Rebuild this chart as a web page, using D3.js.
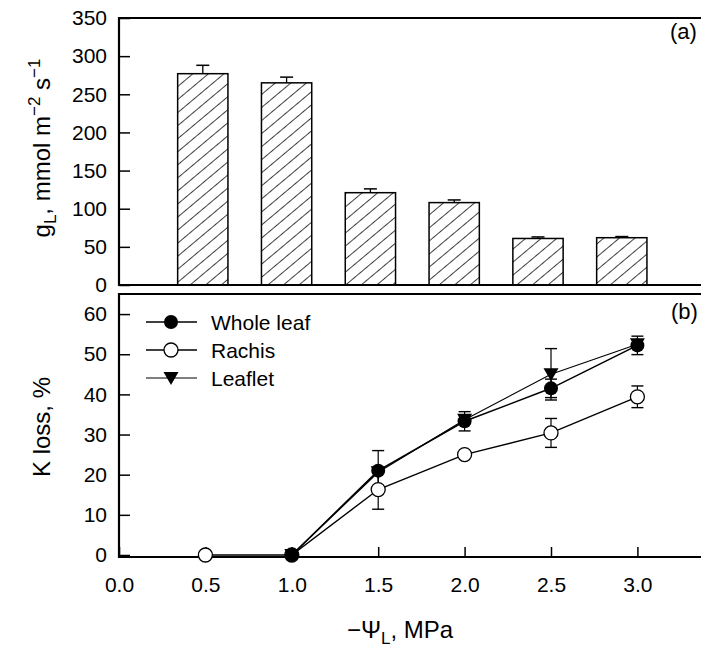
<!DOCTYPE html>
<html>
<head>
<meta charset="utf-8">
<script src="https://cdn.jsdelivr.net/npm/d3@7"></script>
<style>
  html, body { margin: 0; padding: 0; background: #fff; }
  svg { display: block; font-family: "Liberation Sans", Arial, sans-serif; }
</style>
</head>
<body>
<svg id="chart" width="701" height="647"></svg>
<script>
// Panel (a): leaf conductance at each water potential
const psiBars = [0.5, 1.0, 1.5, 2.0, 2.5, 3.0];
const gMean   = [277, 265, 121, 108, 61, 62];
const gErr    = [11, 7.5, 5, 3.5, 2, 1.5];
const gTicks  = [0, 50, 100, 150, 200, 250, 300, 350];

// Panel (b): loss of hydraulic conductance
const psiWhole   = [1.0, 1.5, 2.0, 2.5, 3.0];
const wholeMean  = [0, 21, 33.3, 41.5, 52.2];
const wholeErr   = [0, 5, 2.4, 2.3, 2.3];

const psiRachis  = [0.5, 1.0, 1.5, 2.0, 2.5, 3.0];
const rachisMean = [0, 0, 16.3, 25, 30.4, 39.4];
const rachisErr  = [0, 0, 4.9, 0.5, 3.6, 2.7];

const psiLeaflet  = [1.0, 1.5, 2.0, 2.5, 3.0];
const leafletMean = [0, 20.6, 33.7, 45, 52.5];
const leafletErr  = [0, 0, 0, 6.4, 0];

const kTicks = [0, 10, 20, 30, 40, 50, 60];
const xTicks = [0.0, 0.5, 1.0, 1.5, 2.0, 2.5, 3.0];

const svg = d3.select("#chart");
svg.append("rect").attr("width", 701).attr("height", 647).attr("fill", "#fff");

const left = 119;
const xTop = d3.scaleLinear().domain([0, 3.5]).range([left, left + 167.6 * 3.5]);
const xBot = d3.scaleLinear().domain([0, 3.5]).range([left, left + 172.8 * 3.5]);
const yTop = d3.scaleLinear().domain([0, 350]).range([285, 18]);
const yBot = d3.scaleLinear().domain([-0.5, 65]).range([557, 294]);

const tickFont = 21;

// hatch fill for bars
const defs = svg.append("defs");
defs.append("pattern")
  .attr("id", "hatch")
  .attr("patternUnits", "userSpaceOnUse")
  .attr("width", 10).attr("height", 10)
  .attr("patternTransform", "rotate(50)")
  .append("line")
  .attr("x1", 0).attr("y1", 0).attr("x2", 0).attr("y2", 10)
  .attr("stroke", "#000").attr("stroke-width", 1.5);

// ---------- panel (a) ----------
const gA = svg.append("g");
const barW = 0.3;
gA.selectAll("rect.bar").data(psiBars).join("rect")
  .attr("class", "bar")
  .attr("x", (d) => xTop(d - barW / 2))
  .attr("width", xTop(barW) - xTop(0))
  .attr("y", (d, i) => yTop(gMean[i]))
  .attr("height", (d, i) => yTop(0) - yTop(gMean[i]))
  .attr("fill", "url(#hatch)")
  .attr("stroke", "#000").attr("stroke-width", 1.5);

// error bars (upper only)
const capA = 6.5;
psiBars.forEach((p, i) => {
  const cx = xTop(p);
  gA.append("line").attr("x1", cx).attr("x2", cx)
    .attr("y1", yTop(gMean[i])).attr("y2", yTop(gMean[i] + gErr[i]))
    .attr("stroke", "#000").attr("stroke-width", 1.3);
  gA.append("line").attr("x1", cx - capA).attr("x2", cx + capA)
    .attr("y1", yTop(gMean[i] + gErr[i])).attr("y2", yTop(gMean[i] + gErr[i]))
    .attr("stroke", "#000").attr("stroke-width", 1.5);
});

const axA = gA.append("g").attr("transform", `translate(${left},0)`)
  .call(d3.axisLeft(yTop).tickValues(gTicks).tickSize(-11).tickPadding(12).tickSizeOuter(0));
axA.select(".domain").remove();
axA.selectAll(".tick line").attr("stroke", "#000").attr("stroke-width", 1.5);
axA.selectAll(".tick text").attr("font-size", tickFont).attr("fill", "#000")
  .attr("font-family", "'Liberation Sans', Arial, sans-serif");

// frame of panel (a)
gA.append("line").attr("x1", left).attr("x2", left).attr("y1", yTop(350) - 1).attr("y2", yTop(0) + 1)
  .attr("stroke", "#000").attr("stroke-width", 2.2);
gA.append("line").attr("x1", left).attr("x2", 701).attr("y1", yTop(350)).attr("y2", yTop(350))
  .attr("stroke", "#000").attr("stroke-width", 2.2);
gA.append("line").attr("x1", left).attr("x2", 701).attr("y1", yTop(0)).attr("y2", yTop(0))
  .attr("stroke", "#000").attr("stroke-width", 2);

gA.append("text").attr("x", 670).attr("y", 39).attr("font-size", 22).text("(a)");

// y title (a)
const tA = gA.append("text")
  .attr("transform", "translate(50,148) rotate(-90)")
  .attr("text-anchor", "middle").attr("font-size", 24);
tA.append("tspan").text("g");
tA.append("tspan").attr("font-size", 17).attr("dy", 6).text("L");
tA.append("tspan").attr("dy", -6).text(", mmol m");
tA.append("tspan").attr("font-size", 17).attr("dy", -10).text("\u22122");
tA.append("tspan").attr("dy", 10).text(" s");
tA.append("tspan").attr("font-size", 17).attr("dy", -10).text("\u22121");

// ---------- panel (b) ----------
const gB = svg.append("g");

const axB = gB.append("g").attr("transform", `translate(${left},0)`)
  .call(d3.axisLeft(yBot).tickValues(kTicks).tickSize(-11).tickPadding(12).tickSizeOuter(0));
axB.select(".domain").remove();
axB.selectAll(".tick line").attr("stroke", "#000").attr("stroke-width", 1.5);
axB.selectAll(".tick text").attr("font-size", tickFont).attr("fill", "#000")
  .attr("font-family", "'Liberation Sans', Arial, sans-serif");

const axX = gB.append("g").attr("transform", `translate(0,${yBot(-0.5)})`)
  .call(d3.axisBottom(xBot).tickValues(xTicks).tickFormat(d3.format(".1f"))
    .tickSize(-10).tickPadding(20).tickSizeOuter(0));
axX.select(".domain").remove();
axX.selectAll(".tick line").attr("stroke", "#000").attr("stroke-width", 1.5);
axX.selectAll(".tick text").attr("font-size", tickFont).attr("fill", "#000")
  .attr("font-family", "'Liberation Sans', Arial, sans-serif");

gB.append("line").attr("x1", left).attr("x2", left).attr("y1", yBot(65) - 1).attr("y2", yBot(-0.5) + 1)
  .attr("stroke", "#000").attr("stroke-width", 2.2);
gB.append("line").attr("x1", left).attr("x2", 701).attr("y1", yBot(65)).attr("y2", yBot(65))
  .attr("stroke", "#000").attr("stroke-width", 2.2);
gB.append("line").attr("x1", left).attr("x2", 701).attr("y1", yBot(-0.5)).attr("y2", yBot(-0.5))
  .attr("stroke", "#000").attr("stroke-width", 2);

gB.append("text").attr("x", 671).attr("y", 319).attr("font-size", 22).text("(b)");

const capB = 6;
function errorBars(xs, ms, es) {
  xs.forEach((p, i) => {
    if (!es[i]) return;
    const cx = xBot(p), lo = yBot(ms[i] - es[i]), hi = yBot(ms[i] + es[i]);
    gB.append("line").attr("x1", cx).attr("x2", cx).attr("y1", lo).attr("y2", hi)
      .attr("stroke", "#000").attr("stroke-width", 1.2);
    [lo, hi].forEach((yy) => gB.append("line")
      .attr("x1", cx - capB).attr("x2", cx + capB).attr("y1", yy).attr("y2", yy)
      .attr("stroke", "#000").attr("stroke-width", 1.4));
  });
}

const line = d3.line().x((d) => xBot(d[0])).y((d) => yBot(d[1]));
function series(xs, ms, width) {
  gB.append("path").datum(xs.map((p, i) => [p, ms[i]]))
    .attr("d", line).attr("fill", "none").attr("stroke", "#000").attr("stroke-width", width);
}

const r = 7;
const triPath = (cx, cy) => `M${cx - 7.5},${cy - 6}L${cx + 7.5},${cy - 6}L${cx},${cy + 7}Z`;

errorBars(psiRachis, rachisMean, rachisErr);
errorBars(psiLeaflet, leafletMean, leafletErr);
errorBars(psiWhole, wholeMean, wholeErr);

series(psiRachis, rachisMean, 1.4);
series(psiLeaflet, leafletMean, 1.1);
series(psiWhole, wholeMean, 1.6);

gB.selectAll("circle.rachis").data(psiRachis).join("circle")
  .attr("class", "rachis")
  .attr("cx", (d) => xBot(d)).attr("cy", (d, i) => yBot(rachisMean[i])).attr("r", r)
  .attr("fill", "#fff").attr("stroke", "#000").attr("stroke-width", 1.3);
gB.selectAll("path.leaflet").data(psiLeaflet).join("path")
  .attr("class", "leaflet")
  .attr("d", (d, i) => triPath(xBot(d), yBot(leafletMean[i])))
  .attr("fill", "#000");
gB.selectAll("circle.whole").data(psiWhole).join("circle")
  .attr("class", "whole")
  .attr("cx", (d) => xBot(d)).attr("cy", (d, i) => yBot(wholeMean[i])).attr("r", r)
  .attr("fill", "#000");

// legend
const legendItems = [
  { name: "Whole leaf", kind: "whole", y: 322 },
  { name: "Rachis", kind: "rachis", y: 350 },
  { name: "Leaflet", kind: "leaflet", y: 378 }
];
legendItems.forEach((it) => {
  gB.append("line").attr("x1", 146).attr("x2", 197).attr("y1", it.y).attr("y2", it.y)
    .attr("stroke", "#000").attr("stroke-width", it.kind === "leaflet" ? 1.1 : 1.5);
  if (it.kind === "whole") {
    gB.append("circle").attr("cx", 171).attr("cy", it.y).attr("r", r).attr("fill", "#000");
  } else if (it.kind === "rachis") {
    gB.append("circle").attr("cx", 171).attr("cy", it.y).attr("r", r)
      .attr("fill", "#fff").attr("stroke", "#000").attr("stroke-width", 1.3);
  } else {
    gB.append("path").attr("d", triPath(171, it.y)).attr("fill", "#000");
  }
  gB.append("text").attr("x", 211).attr("y", it.y).attr("dy", "0.36em")
    .attr("font-size", 21).text(it.name);
});

// y title (b)
gB.append("text").attr("transform", "translate(50,427) rotate(-90)")
  .attr("text-anchor", "middle").attr("font-size", 24).text("K loss, %");

// x title
const tX = svg.append("text").attr("x", 400).attr("y", 638)
  .attr("text-anchor", "middle").attr("font-size", 24);
tX.append("tspan").text("\u2212\u03A8");
tX.append("tspan").attr("font-size", 17).attr("dy", 6).text("L");
tX.append("tspan").attr("dy", -6).text(", MPa");
</script>
</body>
</html>
